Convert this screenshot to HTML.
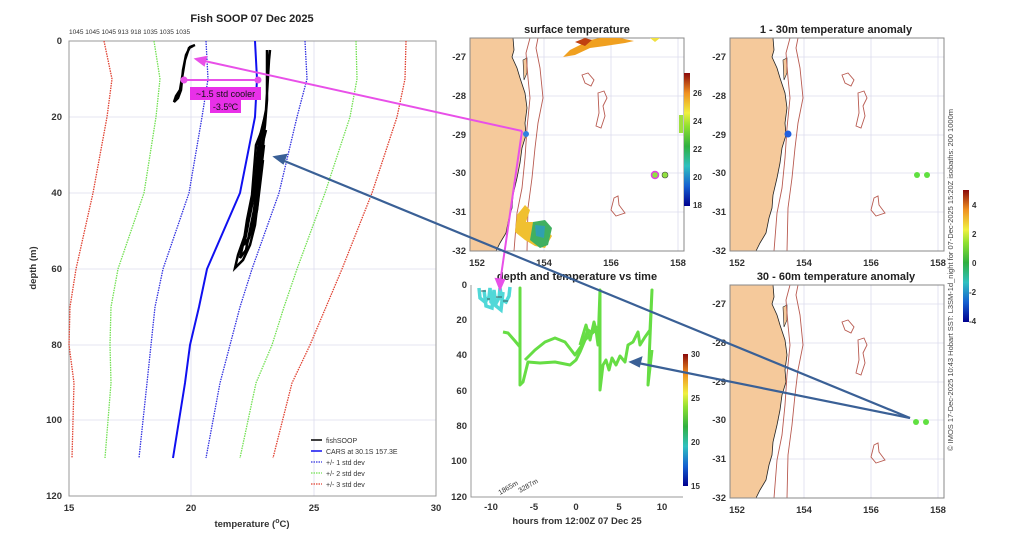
<!DOCTYPE html>
<html><head><meta charset="utf-8"><style>
html,body{margin:0;padding:0;background:#fff}
svg{display:block;font-family:"Liberation Sans",sans-serif}
.t{font-size:9.5px;font-weight:bold;fill:#333}
.ti{font-size:11px;font-weight:bold;fill:#222}
</style></head><body>
<svg width="1024" height="547" viewBox="0 0 1024 547" xmlns="http://www.w3.org/2000/svg">
<defs>
<linearGradient id="jet" x1="0" y1="1" x2="0" y2="0">
<stop offset="0" stop-color="#00008f"/><stop offset="0.15" stop-color="#1560d0"/><stop offset="0.3" stop-color="#30c0c0"/><stop offset="0.45" stop-color="#30b040"/><stop offset="0.6" stop-color="#90e030"/><stop offset="0.7" stop-color="#f0f040"/><stop offset="0.85" stop-color="#f09020"/><stop offset="1" stop-color="#8a0a0a"/>
</linearGradient>
<g id="base">
<rect x="0" y="0" width="214" height="213" fill="#fff"/>
<g stroke="#dde" stroke-width="0.8" fill="none">
<path d="M74 0V213M141 0V213M208 0V213M0 19H214M0 58H214M0 97H214M0 135H214M0 174H214"/>
</g>
<path d="M0 0H43L44 12L42 19L47 30L50 40L55 55L57 70L55 85L56 97L52 110L50 125L47 140L43 157L42 170L39 180L36 195L30 205L26 213H0Z" fill="#f5c99b" stroke="#222" stroke-width="0.8"/>
<path d="M53 22L57 20L57 35L54 42Z" fill="#f5c99b" stroke="#222" stroke-width="0.6"/>
<g fill="none" stroke="#b85a50" stroke-width="0.9">
<path d="M60 0L56 15L58 40L60 60L57 90L55 120L52 150L47 175L44 213"/>
<path d="M68 0L66 10L70 30L73 60L68 85L65 110L62 140L58 170L57 213"/>
<path d="M112 37L118 35L124 42L121 48L115 45Z"/>
<path d="M128 55L134 53L137 60L133 68L135 78L131 90L126 88L129 75Z"/>
<path d="M144 160L148 158L149 167L155 175L146 178L141 172Z"/>
</g>
<rect x="0" y="0" width="214" height="213" fill="none" stroke="#888" stroke-width="1"/>
</g>
</defs>

<!-- LEFT PROFILE -->
<text x="252" y="22" class="ti" text-anchor="middle">Fish SOOP 07 Dec 2025</text>
<text x="69" y="34" font-size="6.5" fill="#333">1045 1045 1045 913 918 1035 1035 1035</text>
<g stroke="#dde" stroke-width="0.8">
<path d="M191 41V496M314 41V496M69 117H436M69 193H436M69 269H436M69 345H436M69 420H436"/>
</g>
<rect x="69" y="41" width="367" height="455" fill="none" stroke="#999" stroke-width="1"/>
<g fill="none" stroke-width="1.3" stroke-dasharray="1.5,1">
<polyline stroke="#e04030" points="104,41 112,79 107,117 93,193 76,269 70,307 69,345 74,383 72,458"/>
<polyline stroke="#70e050" points="154,41 160,79 156,117 144,193 118,269 111,307 110,345 111,383 105,458"/>
<polyline stroke="#3030e0" points="206,41 208,79 202,117 189,193 163,269 155,307 151,345 147,383 139,458"/>
<polyline stroke="#3030e0" points="305,41 307,79 297,117 279,193 252,269 240,307 230,345 220,383 206,458"/>
<polyline stroke="#70e050" points="356,41 357,79 350,117 325,193 297,269 284,307 272,345 256,383 240,458"/>
<polyline stroke="#e04030" points="406,41 405,79 397,117 372,193 342,269 326,307 310,345 292,383 273,458"/>
</g>
<polyline fill="none" stroke="#1010f0" stroke-width="2" points="255,41 257,79 255,117 240,193 207,269 199,307 190,345 185,383 173,458"/>
<g fill="none" stroke="#000" stroke-width="2.5">
<polyline points="195,45 190,47 186,55 183,70 182,80 181,90 178,98 174,102 176,96 180,90 182,78 185,60 189,48 193,46"/>
<polyline points="267,50 267,100 265,125 262,150 260,175 258,200 255,225 250,245 243,260 235,268 238,255 245,235 250,215 255,190 258,160 262,130 266,110 269,60 270,50"/>
<polyline points="262,130 256,145 254,170 252,195 247,220 244,240 240,258 246,250 250,230 254,210 257,185 262,160 264,135"/>
<polyline points="266,130 261,150 258,175 256,200 254,220 248,240 252,230 257,210 260,185 263,160"/>
<polyline points="264,120 259,140 257,160 255,185 251,205 248,225 244,245 249,238 253,220 258,195 261,170 264,145"/>
</g>
<g class="t">
<text x="62" y="44" text-anchor="end">0</text><text x="62" y="120" text-anchor="end">20</text><text x="62" y="196" text-anchor="end">40</text><text x="62" y="272" text-anchor="end">60</text><text x="62" y="348" text-anchor="end">80</text><text x="62" y="423" text-anchor="end">100</text><text x="62" y="499" text-anchor="end">120</text>
<text x="69" y="511" text-anchor="middle">15</text><text x="191" y="511" text-anchor="middle">20</text><text x="314" y="511" text-anchor="middle">25</text><text x="436" y="511" text-anchor="middle">30</text>
</g>
<text x="252" y="527" class="t" text-anchor="middle" font-size="10.5">temperature (<tspan font-size="7" dy="-4">o</tspan><tspan dy="4">C)</tspan></text>
<text transform="translate(36,268) rotate(-90)" class="t" text-anchor="middle" font-size="10.5">depth (m)</text>
<g font-size="7" fill="#333">
<line x1="311" y1="440" x2="322" y2="440" stroke="#000" stroke-width="1.5"/><text x="326" y="443">fishSOOP</text>
<line x1="311" y1="451" x2="322" y2="451" stroke="#1010f0" stroke-width="1.5"/><text x="326" y="454">CARS at 30.1S 157.3E</text>
<line x1="311" y1="462" x2="322" y2="462" stroke="#3030e0" stroke-width="1.3" stroke-dasharray="1.5,1"/><text x="326" y="465">+/- 1 std dev</text>
<line x1="311" y1="473" x2="322" y2="473" stroke="#70e050" stroke-width="1.3" stroke-dasharray="1.5,1"/><text x="326" y="476">+/- 2 std dev</text>
<line x1="311" y1="484" x2="322" y2="484" stroke="#e04030" stroke-width="1.3" stroke-dasharray="1.5,1"/><text x="326" y="487">+/- 3 std dev</text>
</g>

<!-- SURFACE MAP -->
<text x="577" y="33" class="ti" text-anchor="middle">surface temperature</text>
<use href="#base" x="470" y="38"/>
<g>
<path d="M563 57L570 50L580 45L590 40L600 38L620 38L634 41L625 43L605 46L590 48L575 55Z" fill="#f0a020"/>
<path d="M575 42L585 38L592 40L585 46Z" fill="#c04010"/>
<path d="M650 38L660 38L655 42Z" fill="#f0e040"/>
<path d="M517 215L525 205L530 210L526 222L535 222L545 228L552 236L545 248L535 246L525 240L515 232Z" fill="#f0c030"/>
<path d="M533 222L545 220L552 228L548 245L540 248L530 240Z" fill="#40b060"/>
<path d="M535 225L545 226L544 238L536 236Z" fill="#30a0b0"/>
<circle cx="655" cy="175" r="3.5" fill="#90e040" stroke="#e040e0" stroke-width="1.5"/>
<circle cx="665" cy="175" r="3" fill="#90e040" stroke="#444" stroke-width="0.6"/>
<circle cx="526" cy="134" r="3" fill="#3080e0"/>
<rect x="679" y="115" width="4" height="18" fill="#a0e040"/>
</g>
<g class="t">
<text x="466" y="60" text-anchor="end">-27</text><text x="466" y="99" text-anchor="end">-28</text><text x="466" y="138" text-anchor="end">-29</text><text x="466" y="176" text-anchor="end">-30</text><text x="466" y="215" text-anchor="end">-31</text><text x="466" y="254" text-anchor="end">-32</text>
<text x="477" y="266" text-anchor="middle">152</text><text x="544" y="266" text-anchor="middle">154</text><text x="611" y="266" text-anchor="middle">156</text><text x="678" y="266" text-anchor="middle">158</text>
</g>
<rect x="684" y="73" width="6" height="133" fill="url(#jet)"/>
<g font-size="8" font-weight="bold" fill="#333">
<text x="693" y="96">26</text><text x="693" y="124">24</text><text x="693" y="152">22</text><text x="693" y="180">20</text><text x="693" y="208">18</text>
</g>

<!-- ANOMALY MAP 1 -->
<text x="836" y="33" class="ti" text-anchor="middle">1 - 30m temperature anomaly</text>
<use href="#base" x="730" y="38"/>
<circle cx="788" cy="134" r="3.5" fill="#2060e0"/>
<circle cx="917" cy="175" r="3" fill="#60e040"/><circle cx="927" cy="175" r="3" fill="#60e040"/>
<g class="t">
<text x="726" y="60" text-anchor="end">-27</text><text x="726" y="99" text-anchor="end">-28</text><text x="726" y="138" text-anchor="end">-29</text><text x="726" y="176" text-anchor="end">-30</text><text x="726" y="215" text-anchor="end">-31</text><text x="726" y="254" text-anchor="end">-32</text>
<text x="737" y="266" text-anchor="middle">152</text><text x="804" y="266" text-anchor="middle">154</text><text x="871" y="266" text-anchor="middle">156</text><text x="938" y="266" text-anchor="middle">158</text>
</g>

<!-- ANOMALY MAP 2 -->
<text x="836" y="280" class="ti" text-anchor="middle">30 - 60m temperature anomaly</text>
<use href="#base" x="730" y="285"/>
<circle cx="916" cy="422" r="3" fill="#60e040"/><circle cx="926" cy="422" r="3" fill="#60e040"/>
<g class="t">
<text x="726" y="307" text-anchor="end">-27</text><text x="726" y="346" text-anchor="end">-28</text><text x="726" y="385" text-anchor="end">-29</text><text x="726" y="423" text-anchor="end">-30</text><text x="726" y="462" text-anchor="end">-31</text><text x="726" y="501" text-anchor="end">-32</text>
<text x="737" y="513" text-anchor="middle">152</text><text x="804" y="513" text-anchor="middle">154</text><text x="871" y="513" text-anchor="middle">156</text><text x="938" y="513" text-anchor="middle">158</text>
</g>
<rect x="963" y="190" width="6" height="132" fill="url(#jet)"/>
<g font-size="8" font-weight="bold" fill="#333">
<text x="972" y="208">4</text><text x="972" y="237">2</text><text x="972" y="266">0</text><text x="969" y="295">-2</text><text x="969" y="324">-4</text>
</g>
<text transform="translate(953,280) rotate(-90)" font-size="7.5" fill="#444" text-anchor="middle">© IMOS 17-Dec-2025 10:43 Hobart SST: L3SM-1d_night for 07-Dec-2025 15:20Z isobaths: 200  1000m</text>

<!-- TIME PLOT -->
<text x="577" y="280" class="ti" text-anchor="middle">depth and temperature vs time</text>
<path d="M471 285V497H683" fill="none" stroke="#999" stroke-width="1"/>
<g fill="none" stroke="#50d8d8" stroke-width="3.5">
<polyline points="479,288 480,298 485,302 489,297 490,288 491,302 495,305 499,298 500,288 502,300 506,302 509,296 510,287"/>
<polyline points="484,290 486,306 492,308 494,290 496,306 501,310 503,292"/>
</g>
<g stroke="#333" stroke-width="0.8"><path d="M481 291H486M487 299H490M496 297H502M503 301H508"/></g>
<g fill="none" stroke="#66dd44" stroke-width="3" stroke-linejoin="round">
<polyline points="503,332 508,333 515,341 520,347 520,288 520,385 523,382 528,362 540,363 555,362 570,365 576,360 580,352 585,340 590,335 596,330 598,345 600,290 600,390 603,365 606,360 609,370 612,358 616,365 620,356 625,362 628,345 633,342 638,332 640,345 645,337 650,330 652,290 648,385 652,350"/>
<polyline points="525,360 535,350 545,342 555,338 565,342 575,355 582,345 588,330 592,333 597,326"/>
<polyline points="580,345 586,325 590,340 594,322 598,338"/>
</g>
<g class="t">
<text x="467" y="288" text-anchor="end">0</text><text x="467" y="323" text-anchor="end">20</text><text x="467" y="358" text-anchor="end">40</text><text x="467" y="394" text-anchor="end">60</text><text x="467" y="429" text-anchor="end">80</text><text x="467" y="464" text-anchor="end">100</text><text x="467" y="500" text-anchor="end">120</text>
<text x="491" y="510" text-anchor="middle">-10</text><text x="534" y="510" text-anchor="middle">-5</text><text x="576" y="510" text-anchor="middle">0</text><text x="619" y="510" text-anchor="middle">5</text><text x="662" y="510" text-anchor="middle">10</text>
</g>
<text x="577" y="524" class="t" text-anchor="middle" font-size="10.5">hours from 12:00Z 07 Dec 25</text>
<text transform="translate(500,495) rotate(-30)" font-size="7" fill="#333">1865m</text>
<text transform="translate(520,493) rotate(-30)" font-size="7" fill="#333">3287m</text>
<rect x="683" y="354" width="5" height="132" fill="url(#jet)"/>
<g font-size="8" font-weight="bold" fill="#333">
<text x="691" y="357">30</text><text x="691" y="401">25</text><text x="691" y="445">20</text><text x="691" y="489">15</text>
</g>

<!-- ANNOTATIONS -->
<g stroke="#e850e8" stroke-width="2" fill="#e850e8">
<line x1="522" y1="131" x2="200" y2="60"/>
<polygon points="196,59 206,57 204,65"/>
<line x1="522" y1="131" x2="500" y2="283"/>
<polygon points="500,289 496,279 504,280"/>
<line x1="184" y1="80" x2="258" y2="80"/>
<circle cx="184" cy="80" r="2.5"/><circle cx="258" cy="80" r="2.5"/>
</g>
<rect x="190" y="87" width="71" height="13" fill="#e830e8"/>
<rect x="210" y="100" width="31" height="13" fill="#e830e8"/>
<text x="225.5" y="97" font-size="9" text-anchor="middle" fill="#111">~1.5 std cooler</text>
<text x="225.5" y="110" font-size="9" text-anchor="middle" fill="#111">-3.5ºC</text>
<g stroke="#3a6096" stroke-width="2.2" fill="#3a6096">
<line x1="910" y1="418" x2="282" y2="160"/>
<polygon points="275,157 286,155 283,163"/>
<line x1="910" y1="418" x2="638" y2="363"/>
<polygon points="631,362 641,358 639,366"/>
</g>
</svg>
</body></html>
